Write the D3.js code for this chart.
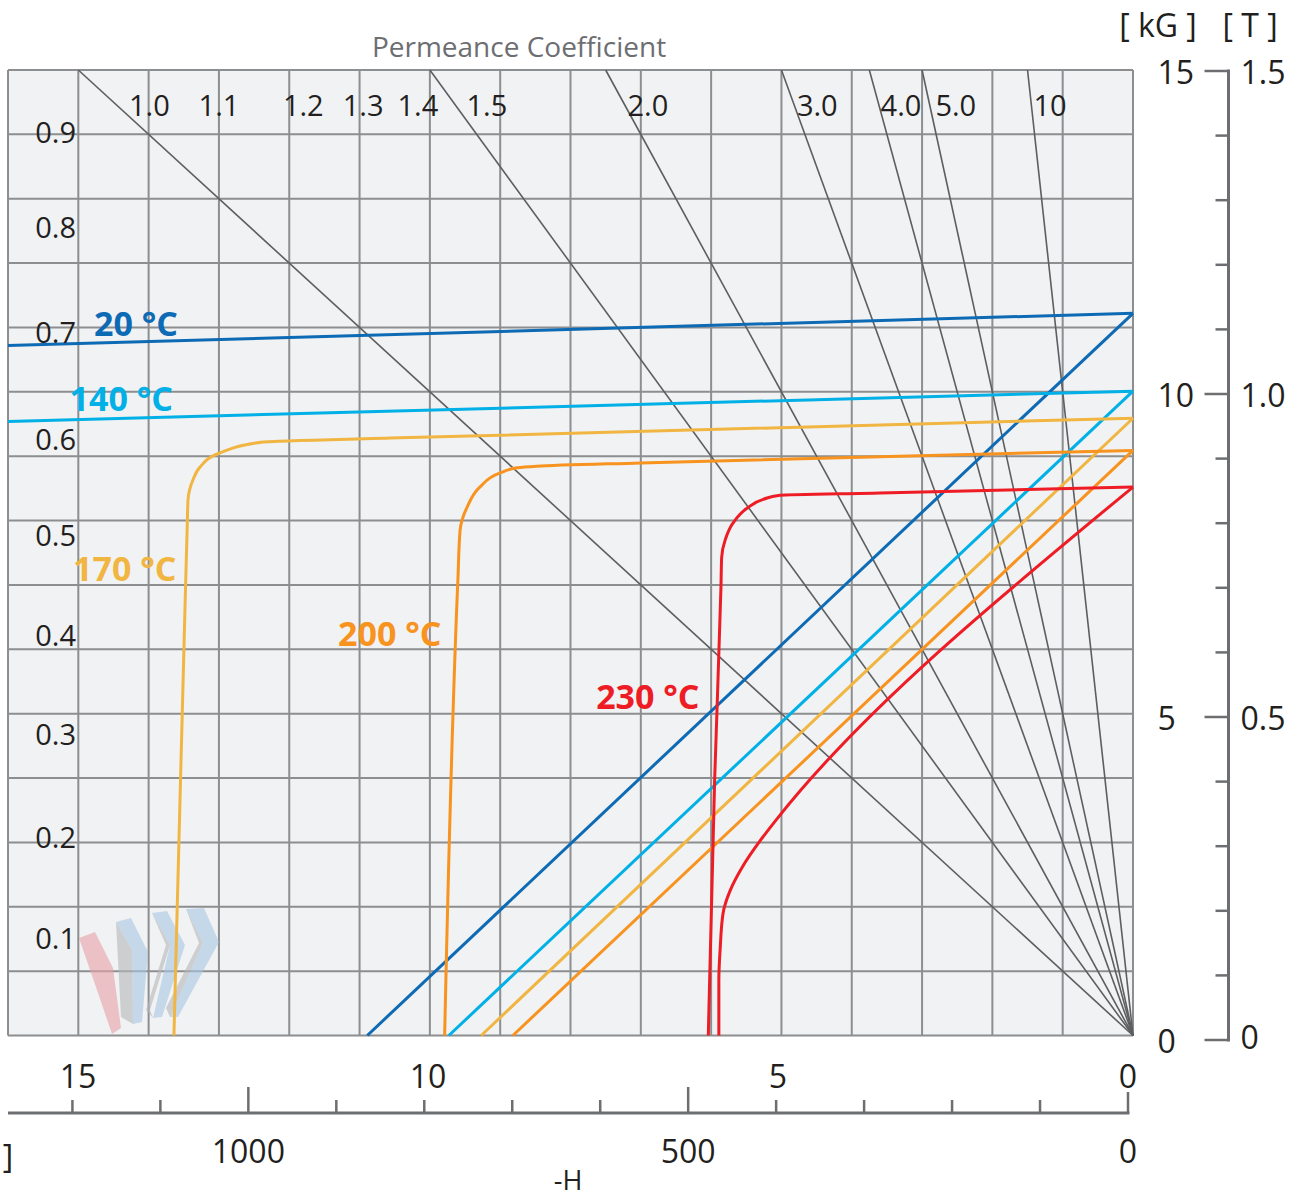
<!DOCTYPE html>
<html><head><meta charset="utf-8">
<script src="https://cdn.jsdelivr.net/npm/d3@7"></script>
<style>
html,body{margin:0;padding:0;background:#fff;}
svg{display:block;font-family:"Open Sans",sans-serif;}
</style></head><body>
<svg id="chart" width="1302" height="1199"></svg>
<script>
// Demagnetization curves: -H in kOe, B in kG
const temperatures = ["20 °C", "140 °C", "170 °C", "200 °C", "230 °C"];
const curveColors = ["#0d6ab4", "#00b0e6", "#f1b541", "#f7931e", "#ee1c25"];

// intrinsic (J) curves, [ -H (kOe), B (kG) ]
const intrinsic20 = [[0, 11.22], [16, 10.72]];
const intrinsic140 = [[0, 10.01], [16, 9.54]];
const intrinsic170 = [[0, 9.59], [10.43, 9.285], [12.37, 9.22], [12.99, 9.05], [13.27, 8.83],
  [13.37, 8.63], [13.44, 8.32], [13.45, 7.96], [13.48, 6.76], [13.64, 0]];
const intrinsic200 = [[0, 9.09], [7.01, 8.896], [8.48, 8.845], [8.76, 8.82], [9.0, 8.74],
  [9.29, 8.52], [9.47, 8.21], [9.57, 7.85], [9.6, 7.12], [9.79, 0]];
const intrinsic230 = [[0, 8.52], [3.6, 8.43], [5.02, 8.395], [5.26, 8.33], [5.49, 8.19],
  [5.69, 7.96], [5.8, 7.7], [5.85, 7.43], [5.86, 6.97], [5.95, 3.97], [6.04, 0]];

// normal (B) curves
const normal20 = [[0, 11.22], [10.89, 0]];
const normal140 = [[0, 10.01], [9.73, 0]];
const normal170 = [[0, 9.59], [9.27, 0]];
const normal200 = [[0, 9.09], [8.82, 0]];
const normal230 = [[0, 8.52], [5.06, 3.37], [5.3, 3.03], [5.56, 2.61], [5.73, 2.25],
  [5.83, 1.9], [5.87, 1.37], [5.89, 0.86], [5.89, 0]];

// label anchor of each temperature [ -H, B ]
const tempLabelAt = [[14.18, 11.07], [14.39, 9.9], [14.34, 7.27], [10.57, 6.25], [6.9, 5.27]];

// permeance coefficient load lines (B/H)
const pcValues = [1.0, 1.5, 2.0, 3.0, 4.0, 5.0, 10];
const pcLabels = ["1.0", "1.1", "1.2", "1.3", "1.4", "1.5", "2.0", "3.0", "4.0", "5.0", "10"];
const pcLabelH = [13.99, 13.0, 11.8, 10.95, 10.17, 9.19, 6.9, 4.49, 3.3, 2.52, 1.18];
const pcLabelB = 14.46;

// left-side scale labels and their heights (kG)
const leftLabels = ["0.9", "0.8", "0.7", "0.6", "0.5", "0.4", "0.3", "0.2", "0.1"];
const leftLabelB = [14.04, 12.57, 10.93, 9.27, 7.79, 6.23, 4.69, 3.09, 1.52];

// axes
const kOeLabels = [15, 10, 5, 0];
const kAmTicks = d3.range(0, 1300, 100);
const kAmLabels = [1000, 500, 0];
const kGTicks = d3.range(0, 16, 1);
const kGLabels = [15, 10, 5, 0];
const teslaLabels = ["1.5", "1.0", "0.5", "0"];

const intrinsicCurves = [intrinsic20, intrinsic140, intrinsic170, intrinsic200, intrinsic230];
const normalCurves = [normal20, normal140, normal170, normal200, normal230];

const svg = d3.select("#chart");
const ink = "#231f20", gridCol = "#8d8e90", pcCol = "#5d5e60", axisCol = "#6d6e71";

const x = d3.scaleLinear().domain([16, 0]).range([8, 1133]);
const y = d3.scaleLinear().domain([0, 15]).range([1035.5, 70]);

// plot area
svg.append("rect").attr("x", x(16)).attr("y", y(15))
  .attr("width", x(0) - x(16)).attr("height", y(0) - y(15)).attr("fill", "#f1f2f4");

const grid = svg.append("g").attr("stroke", gridCol).attr("stroke-width", 2);
grid.selectAll("line.v").data(d3.range(0, 17)).join("line").attr("class", "v")
  .attr("x1", d => x(d)).attr("x2", d => x(d)).attr("y1", y(15)).attr("y2", y(0));
grid.selectAll("line.h").data(d3.range(0, 16)).join("line").attr("class", "h")
  .attr("x1", x(16)).attr("x2", x(0)).attr("y1", d => y(d)).attr("y2", d => y(d));

// decorative logo
const logo = svg.append("g").attr("class", "logo");
const logoShapes = [
  {fill: "#e8a0a5", pts: [[79,938],[95,932],[113,968],[121,1028],[112,1034],[97,990]]},
  {fill: "#a9c6e2", pts: [[116,922],[131,918],[148,952],[142,1022],[133,1024],[132,950]]},
  {fill: "#b5b6b8", pts: [[116,922],[132,950],[133,1024],[121,1017]]},
  {fill: "#a9c6e2", pts: [[152,913],[167,911],[185,945],[162,1017],[153,1018],[170,945]]},
  {fill: "#b5b6b8", pts: [[152,913],[170,945],[150,1010],[153,1018],[146,1010],[166,945]]},
  {fill: "#a9c6e2", pts: [[186,909],[204,908],[219,942],[178,1017],[170,1017],[203,943]]},
  {fill: "#b5b6b8", pts: [[186,909],[203,943],[170,1017],[166,1008],[199,943]]}
];
logo.selectAll("polygon").data(logoShapes).join("polygon")
  .attr("points", d => d.pts.map(p => p.join(",")).join(" "))
  .attr("fill", d => d.fill).attr("opacity", 0.6);

// permeance lines
svg.append("g").selectAll("line").data(pcValues).join("line")
  .attr("x1", x(0)).attr("y1", y(0))
  .attr("x2", d => x(15 / d)).attr("y2", y(15))
  .attr("stroke", pcCol).attr("stroke-width", 1.6);

// curves
const line = d3.line().x(d => x(d[0])).y(d => y(d[1])).curve(d3.curveMonotoneY);
const curves = svg.append("g").attr("fill", "none").attr("stroke-width", 3);
curves.selectAll("path.n").data(normalCurves).join("path").attr("class", "n")
  .attr("d", line).attr("stroke", (d, i) => curveColors[i]);
curves.selectAll("path.j").data(intrinsicCurves).join("path").attr("class", "j")
  .attr("d", line).attr("stroke", (d, i) => curveColors[i]);

// temperature labels
svg.append("g").selectAll("text").data(temperatures).join("text")
  .attr("x", (d, i) => x(tempLabelAt[i][0])).attr("y", (d, i) => y(tempLabelAt[i][1]))
  .attr("text-anchor", "middle").attr("dominant-baseline", "central")
  .attr("font-size", 34).attr("font-weight", 700)
  .attr("fill", (d, i) => curveColors[i]).text(d => d);

// permeance coefficient labels
svg.append("text").attr("x", 519).attr("y", 46).attr("text-anchor", "middle")
  .attr("dominant-baseline", "central").attr("font-size", 28).attr("fill", axisCol)
  .text("Permeance Coefficient");
svg.append("g").selectAll("text").data(pcLabels).join("text")
  .attr("x", (d, i) => x(pcLabelH[i])).attr("y", y(pcLabelB))
  .attr("text-anchor", "middle").attr("dominant-baseline", "central")
  .attr("font-size", 29).attr("fill", ink).text(d => d);

// left labels
svg.append("g").selectAll("text").data(leftLabels).join("text")
  .attr("x", 76).attr("y", (d, i) => y(leftLabelB[i]))
  .attr("text-anchor", "end").attr("dominant-baseline", "central")
  .attr("font-size", 29).attr("fill", ink).text(d => d);

// bottom axis: kOe above, kA/m below
const kOePerKAm = 1 / 79.577;
const xb = d3.scaleLinear().domain([0, 1200]).range([1128, 1128 - 1200 * 70.0 * kOePerKAm]);
const bottom = svg.append("g").attr("transform", "translate(0,1113)");
bottom.append("line").attr("x1", 8).attr("x2", xb(0) + 1.5).attr("y1", 0).attr("y2", 0)
  .attr("stroke", axisCol).attr("stroke-width", 3);
bottom.selectAll("line.t").data(kAmTicks).join("line").attr("class", "t")
  .attr("x1", d => xb(d)).attr("x2", d => xb(d)).attr("y1", 0)
  .attr("y2", d => d === 0 ? -21 : (d % 500 === 0 ? -26 : -13))
  .attr("stroke", axisCol).attr("stroke-width", 2.5);
bottom.selectAll("text.koe").data(kOeLabels).join("text").attr("class", "koe")
  .attr("x", d => xb(d / kOePerKAm)).attr("y", -38)
  .attr("text-anchor", "middle").attr("dominant-baseline", "central")
  .attr("font-size", 32).attr("fill", ink).text(d => d);
bottom.selectAll("text.kam").data(kAmLabels).join("text").attr("class", "kam")
  .attr("x", d => xb(d)).attr("y", 37)
  .attr("text-anchor", "middle").attr("dominant-baseline", "central")
  .attr("font-size", 32).attr("fill", ink).text(d => d);
bottom.append("text").attr("x", 8).attr("y", 42).attr("text-anchor", "middle")
  .attr("dominant-baseline", "central").attr("font-size", 32).attr("fill", ink).text("]");
bottom.append("text").attr("x", 568).attr("y", 66).attr("text-anchor", "middle")
  .attr("dominant-baseline", "central").attr("font-size", 27).attr("fill", ink).text("-H");

// right axis: kG and T
const yr = d3.scaleLinear().domain([0, 15]).range([1040, 71]);
const right = svg.append("g").attr("transform", "translate(1228.5,0)");
right.append("line").attr("x1", 0).attr("x2", 0).attr("y1", yr(15) - 1.5).attr("y2", yr(0) + 1.5)
  .attr("stroke", axisCol).attr("stroke-width", 3);
right.selectAll("line.t").data(kGTicks).join("line").attr("class", "t")
  .attr("x1", d => kGLabels.includes(d) ? -24 : -13).attr("x2", 0)
  .attr("y1", d => yr(d)).attr("y2", d => yr(d))
  .attr("stroke", axisCol).attr("stroke-width", 2.5);
right.selectAll("text.kg").data(kGLabels).join("text").attr("class", "kg")
  .attr("x", -71).attr("y", d => yr(d))
  .attr("text-anchor", "start").attr("dominant-baseline", "central")
  .attr("font-size", 32).attr("fill", ink).text(d => d);
right.selectAll("text.t").data(teslaLabels).join("text").attr("class", "t")
  .attr("x", 12).attr("y", (d, i) => yr(kGLabels[i]) - (i === 3 ? 4 : 0))
  .attr("text-anchor", "start").attr("dominant-baseline", "central")
  .attr("font-size", 32).attr("fill", ink).text(d => d);
svg.append("text").attr("x", 1158).attr("y", 24).attr("text-anchor", "middle")
  .attr("dominant-baseline", "central").attr("font-size", 32).attr("fill", ink).text("[ kG ]");
svg.append("text").attr("x", 1250).attr("y", 24).attr("text-anchor", "middle")
  .attr("dominant-baseline", "central").attr("font-size", 32).attr("fill", ink).text("[ T ]");
</script>
</body></html>
